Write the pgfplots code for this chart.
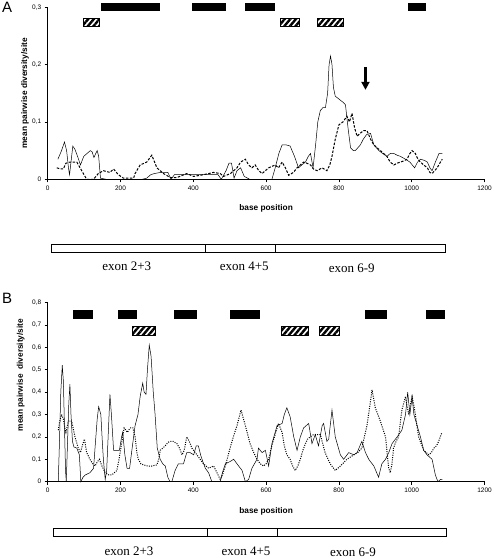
\documentclass[border=0pt]{standalone}
\usepackage{pgfplots}
\pgfplotsset{compat=1.18}
\usepackage{fontspec}
\setmainfont{Liberation Sans}
\newfontfamily\timesfont{Liberation Serif}
\usetikzlibrary{patterns.meta,arrows.meta}

\pgfplotsset{
  panel/.style={
    scale only axis, width=436.8pt, xmin=0, xmax=1200, ymin=0,
    axis x line*=bottom, axis y line*=left, clip=false,
    tick align=outside, major tick length=3pt,
    xtick={0,200,...,1200},
    /pgf/number format/assume math mode=true,
    tick label style={font=\fontsize{6.5}{7}\selectfont},
    xticklabel style={/pgf/number format/1000 sep={}},
    yticklabel style={/pgf/number format/fixed,/pgf/number format/precision=1,/pgf/number format/use comma},
    label style={font=\bfseries\fontsize{8.3}{9}\selectfont},
    xlabel={base position},
    xlabel style={at={(axis description cs:0.5,0)},anchor=center,yshift=-29.5pt},
    axis line style={black, line width=0.5pt},
    tick style={black, line width=0.5pt},
  },
  solidser/.style={black, line width=0.5pt},
  dashser/.style={black, line width=1pt, dash pattern=on 2.5pt off 1.5pt},
  dotser/.style={black, line width=1pt, dash pattern=on 1pt off 1.3pt},
  blackbar/.style={fill=black, draw=black, line width=0.3pt},
  hatchbar/.style={draw=black, line width=0.8pt, pattern={Lines[angle=50,distance=4.3pt,line width=2.4pt]}},
}

\begin{document}
\begin{tikzpicture}
\path[use as bounding box] (0,0) rectangle (493pt,559pt);

% ---------------- Panel A ----------------
\begin{axis}[panel, at={(47.7pt,379.7pt)}, anchor=south west, height=172pt, ymax=0.3,
  ytick={0,0.1,0.2,0.3},
  ylabel={mean pairwise diversity/site},
  ylabel style={at={(axis description cs:-0.052,0.5)},anchor=center}]
\addplot[blackbar] coordinates {(148,0.295) (306,0.295) (306,0.3075) (148,0.3075)} -- cycle;
\addplot[blackbar] coordinates {(396,0.295) (488,0.295) (488,0.3075) (396,0.3075)} -- cycle;
\addplot[blackbar] coordinates {(543,0.295) (623,0.295) (623,0.3075) (543,0.3075)} -- cycle;
\addplot[blackbar] coordinates {(989,0.295) (1036,0.295) (1036,0.3075) (989,0.3075)} -- cycle;
\addplot[hatchbar] coordinates {(98,0.266) (141,0.266) (141,0.281) (98,0.281)} -- cycle;
\addplot[hatchbar] coordinates {(639,0.266) (691,0.266) (691,0.281) (639,0.281)} -- cycle;
\addplot[hatchbar] coordinates {(740,0.266) (811,0.266) (811,0.281) (740,0.281)} -- cycle;

\addplot[solidser] coordinates {
(28,0.035) (38,0.05) (46,0.065) (52,0.05) (57,0.02) (60,0.008) (64,0.03) (69,0.058) (75,0.052)
(82,0.04) (90,0.025) (99,0.04) (108,0.045) (117,0.05) (122,0.048) (127,0.038) (132,0.045) (136,0.05)
(140,0.04) (145,0.002) (160,0) (200,0) (260,0) (272,0.002) (283,0.008) (293,0.01) (310,0.012) (330,0.012)
(339,0.0) (348,0.008) (400,0.008) (468,0.008) (477,0.0) (490,0.015) (498,0.028) (505,0.028) (512,0.002)
(520,0.015) (530,0.02) (540,0.005) (555,0.0) (600,0.0) (616,0.0) (625,0.02) (635,0.045) (644,0.06)
(655,0.06) (666,0.058) (678,0.04) (689,0.02) (698,0.025) (708,0.03) (716,0.04) (722,0.045) (729,0.02)
(736,0.06) (742,0.1) (749,0.12) (756,0.125) (763,0.125) (769,0.15) (773,0.2) (777,0.215) (781,0.2)
(785,0.16) (790,0.145) (800,0.14) (810,0.135) (818,0.13) (825,0.09) (832,0.055) (840,0.05) (845,0.05)
(852,0.055) (859,0.06) (867,0.07) (876,0.078) (887,0.08) (896,0.06) (903,0.055) (910,0.05) (920,0.045)
(932,0.04) (941,0.045) (951,0.045) (960,0.042) (969,0.04) (983,0.035) (995,0.03) (1008,0.02) (1016,0.03)
(1024,0.035) (1035,0.033) (1043,0.03) (1050,0.02) (1056,0.015) (1065,0.03) (1075,0.045) (1084,0.045)};

\addplot[dashser] coordinates {
(25,0.02) (35,0.018) (43,0.018) (50,0.028) (61,0.03) (72,0.03) (80,0.03) (89,0.02) (98,0.01) (107,0.0)
(126,0.0) (139,0.01) (153,0.015) (171,0.012) (181,0.018) (194,0.008) (208,0.002) (236,0.002) (240,0.01)
(254,0.025) (265,0.028) (272,0.03) (286,0.042) (300,0.02) (318,0.01) (337,0.003) (355,0.003) (382,0.01)
(401,0.005) (428,0.008) (456,0.012) (474,0.01) (483,0.005) (502,0.01) (520,0.02) (530,0.03) (543,0.035)
(552,0.025) (561,0.02) (570,0.025) (580,0.015) (589,0.01) (598,0.015) (607,0.02) (625,0.025) (634,0.02)
(644,0.03) (653,0.02) (662,0.007) (675,0.012) (685,0.02) (703,0.03) (712,0.028) (722,0.025) (730,0.018)
(740,0.015) (754,0.02) (767,0.015) (775,0.025) (781,0.04) (790,0.07) (800,0.095) (811,0.1) (822,0.11)
(829,0.1) (836,0.115) (843,0.09) (850,0.075) (858,0.08) (868,0.085) (877,0.085) (887,0.07) (896,0.06)
(905,0.055) (914,0.05) (923,0.045) (932,0.04) (941,0.03) (951,0.025) (960,0.028) (969,0.03) (978,0.032)
(987,0.035) (995,0.045) (1001,0.05) (1010,0.045) (1017,0.035) (1024,0.03) (1033,0.025) (1043,0.02)
(1050,0.012) (1056,0.01) (1063,0.015) (1070,0.02) (1077,0.028) (1084,0.035)};

\draw[black, line width=2.3pt, -{Triangle[width=8pt,length=8pt]}] (axis cs:873,0.196) -- (axis cs:873,0.156);
\end{axis}

% ---------------- Panel B ----------------
\begin{axis}[panel, at={(47.7pt,77.3pt)}, anchor=south west, height=179.2pt, ymax=0.8,
  ytick={0,0.1,...,0.8},
  ylabel={mean pairwise\ \ diversity/site},
  ylabel style={at={(axis description cs:-0.062,0.595)},anchor=center}]
\addplot[blackbar] coordinates {(70,0.729) (121,0.729) (121,0.766) (70,0.766)} -- cycle;
\addplot[blackbar] coordinates {(194,0.729) (242,0.729) (242,0.766) (194,0.766)} -- cycle;
\addplot[blackbar] coordinates {(347,0.729) (408,0.729) (408,0.766) (347,0.766)} -- cycle;
\addplot[blackbar] coordinates {(501,0.729) (582,0.729) (582,0.766) (501,0.766)} -- cycle;
\addplot[blackbar] coordinates {(871,0.729) (929,0.729) (929,0.766) (871,0.766)} -- cycle;
\addplot[blackbar] coordinates {(1039,0.729) (1088,0.729) (1088,0.766) (1039,0.766)} -- cycle;
\addplot[hatchbar] coordinates {(233,0.655) (295,0.655) (295,0.692) (233,0.692)} -- cycle;
\addplot[hatchbar] coordinates {(641,0.655) (715,0.655) (715,0.692) (641,0.692)} -- cycle;
\addplot[hatchbar] coordinates {(747,0.655) (800,0.655) (800,0.692) (747,0.692)} -- cycle;

\addplot[solidser] coordinates {
(29,0) (32,0.16) (36,0.4) (40,0.52) (43,0.45) (46,0.25) (49,0.05) (51,0) (55,0.2) (58,0.35) (61,0.435)
(64,0.3) (68,0.18) (72,0.155) (80,0.15) (87,0.12) (91,0) (97,0.02) (103,0.03) (116,0.04) (126,0.06)
(130,0.15) (136,0.28) (140,0.335) (146,0.3) (150,0.18) (153,0.1) (158,0.01) (162,0.05) (166,0.2)
(171,0.39) (175,0.3) (181,0.14) (190,0.14) (197,0.14) (203,0.2) (206,0.22) (212,0.12) (218,0.06)
(225,0.06) (232,0.15) (240,0.25) (248,0.3) (254,0.38) (261,0.44) (265,0.4) (270,0.39) (274,0.5)
(279,0.61) (284,0.56) (290,0.4) (295,0.3) (301,0.15) (309,0.1) (316,0.08) (323,0.07) (330,0.02)
(336,0) (341,0) (350,0.05) (359,0.08) (373,0.08) (382,0.13) (391,0.13) (401,0.12) (408,0.16) (414,0.16)
(420,0.12) (426,0.09) (433,0.06) (442,0.04) (451,0.0) (474,0.0) (480,0.04) (488,0.08) (501,0.09)
(511,0.1) (520,0.08) (534,0.05) (543,0.0) (552,0.01) (561,0.06) (575,0.1) (579,0.15) (589,0.13)
(598,0.14) (607,0.07) (616,0.17) (630,0.25) (644,0.26) (650,0.3) (657,0.33) (666,0.29) (676,0.2)
(685,0.14) (694,0.2) (703,0.24) (717,0.26) (726,0.17) (735,0.21) (744,0.16) (754,0.25) (758,0.26)
(767,0.18) (772,0.19) (781,0.32) (790,0.2) (804,0.12) (813,0.1) (827,0.13) (841,0.12) (850,0.13)
(863,0.18) (873,0.13) (882,0.1) (896,0.07) (909,0.02) (918,0.08) (928,0.1) (937,0.13) (946,0.17)
(960,0.2) (973,0.23) (983,0.3) (989,0.4) (995,0.3) (1001,0.38) (1006,0.3) (1015,0.25) (1024,0.2)
(1033,0.14) (1042,0.12) (1056,0.1) (1065,0.03) (1072,0) (1079,0.01) (1084,0.01)};

\addplot[dotser] coordinates {
(29,0.23) (33,0.27) (38,0.3) (43,0.28) (47,0.24) (50,0.22) (54,0.25) (57,0.27) (66,0.27) (75,0.2)
(84,0.15) (90,0.13) (95,0.16) (101,0.19) (107,0.13) (116,0.1) (124,0.08) (130,0.07) (137,0.09) (142,0.1)
(149,0.07) (158,0.04) (168,0.03) (176,0.03) (183,0.04) (190,0.05) (196,0.1) (201,0.15) (206,0.2)
(210,0.24) (215,0.23) (219,0.22) (226,0.24) (234,0.24) (240,0.2) (245,0.13) (249,0.1) (256,0.08)
(263,0.075) (275,0.07) (286,0.07) (300,0.075) (305,0.1) (309,0.14) (316,0.15) (323,0.16) (330,0.175)
(336,0.18) (345,0.18) (355,0.17) (362,0.15) (369,0.12) (375,0.14) (382,0.2) (389,0.18) (396,0.15)
(410,0.12) (428,0.08) (442,0.06) (456,0.07) (465,0.04) (474,0.01) (480,0.03) (488,0.07) (501,0.15)
(510,0.2) (520,0.25) (531,0.32) (543,0.25) (556,0.17) (566,0.13) (575,0.1) (584,0.08) (593,0.07)
(600,0.08) (607,0.1) (614,0.15) (621,0.19) (634,0.26) (644,0.22) (650,0.16) (657,0.12) (666,0.1)
(673,0.07) (680,0.05) (687,0.07) (694,0.1) (701,0.14) (708,0.17) (714,0.19) (721,0.2) (730,0.21)
(740,0.21) (749,0.21) (762,0.13) (776,0.08) (790,0.05) (804,0.07) (822,0.1) (841,0.12) (852,0.13)
(863,0.15) (870,0.2) (877,0.25) (886,0.35) (891,0.41) (900,0.33) (914,0.27) (928,0.2) (933,0.12)
(937,0.06) (941,0.04) (946,0.08) (950,0.15) (957,0.18) (964,0.2) (973,0.32) (983,0.38) (987,0.34)
(992,0.3) (996,0.34) (1001,0.38) (1006,0.34) (1010,0.3) (1019,0.2) (1033,0.14) (1047,0.12) (1054,0.13)
(1061,0.15) (1068,0.16) (1074,0.18) (1083,0.22)};
\end{axis}

% ---------------- panel letters ----------------
\node[anchor=north west, inner sep=0pt, font=\fontsize{15}{16}\selectfont] at (2pt,557pt) {A};
\node[anchor=north west, inner sep=0pt, font=\fontsize{15}{16}\selectfont] at (2pt,266pt) {B};

% ---------------- exon maps ----------------
\begin{scope}[line width=0.8pt]
\draw[fill=white] (51.7pt,306.7pt) rectangle (445.7pt,314.7pt);
\draw (205pt,306.7pt) -- (205pt,314.7pt);
\draw (275.7pt,306.7pt) -- (275.7pt,314.7pt);
\draw[fill=white] (53.3pt,23pt) rectangle (446.7pt,30.7pt);
\draw (207.3pt,23pt) -- (207.3pt,30.7pt);
\draw (277.7pt,23pt) -- (277.7pt,30.7pt);
\end{scope}
\begin{scope}[every node/.style={inner sep=0pt, font=\timesfont\fontsize{13}{14}\selectfont}]
\node at (126.7pt,292.3pt) {exon 2+3};
\node at (244.3pt,292.3pt) {exon 4+5};
\node at (351.7pt,290.3pt) {exon 6-9};
\node at (129pt,8pt) {exon 2+3};
\node at (246pt,8pt) {exon 4+5};
\node at (353pt,7pt) {exon 6-9};
\end{scope}
\end{tikzpicture}
\end{document}
